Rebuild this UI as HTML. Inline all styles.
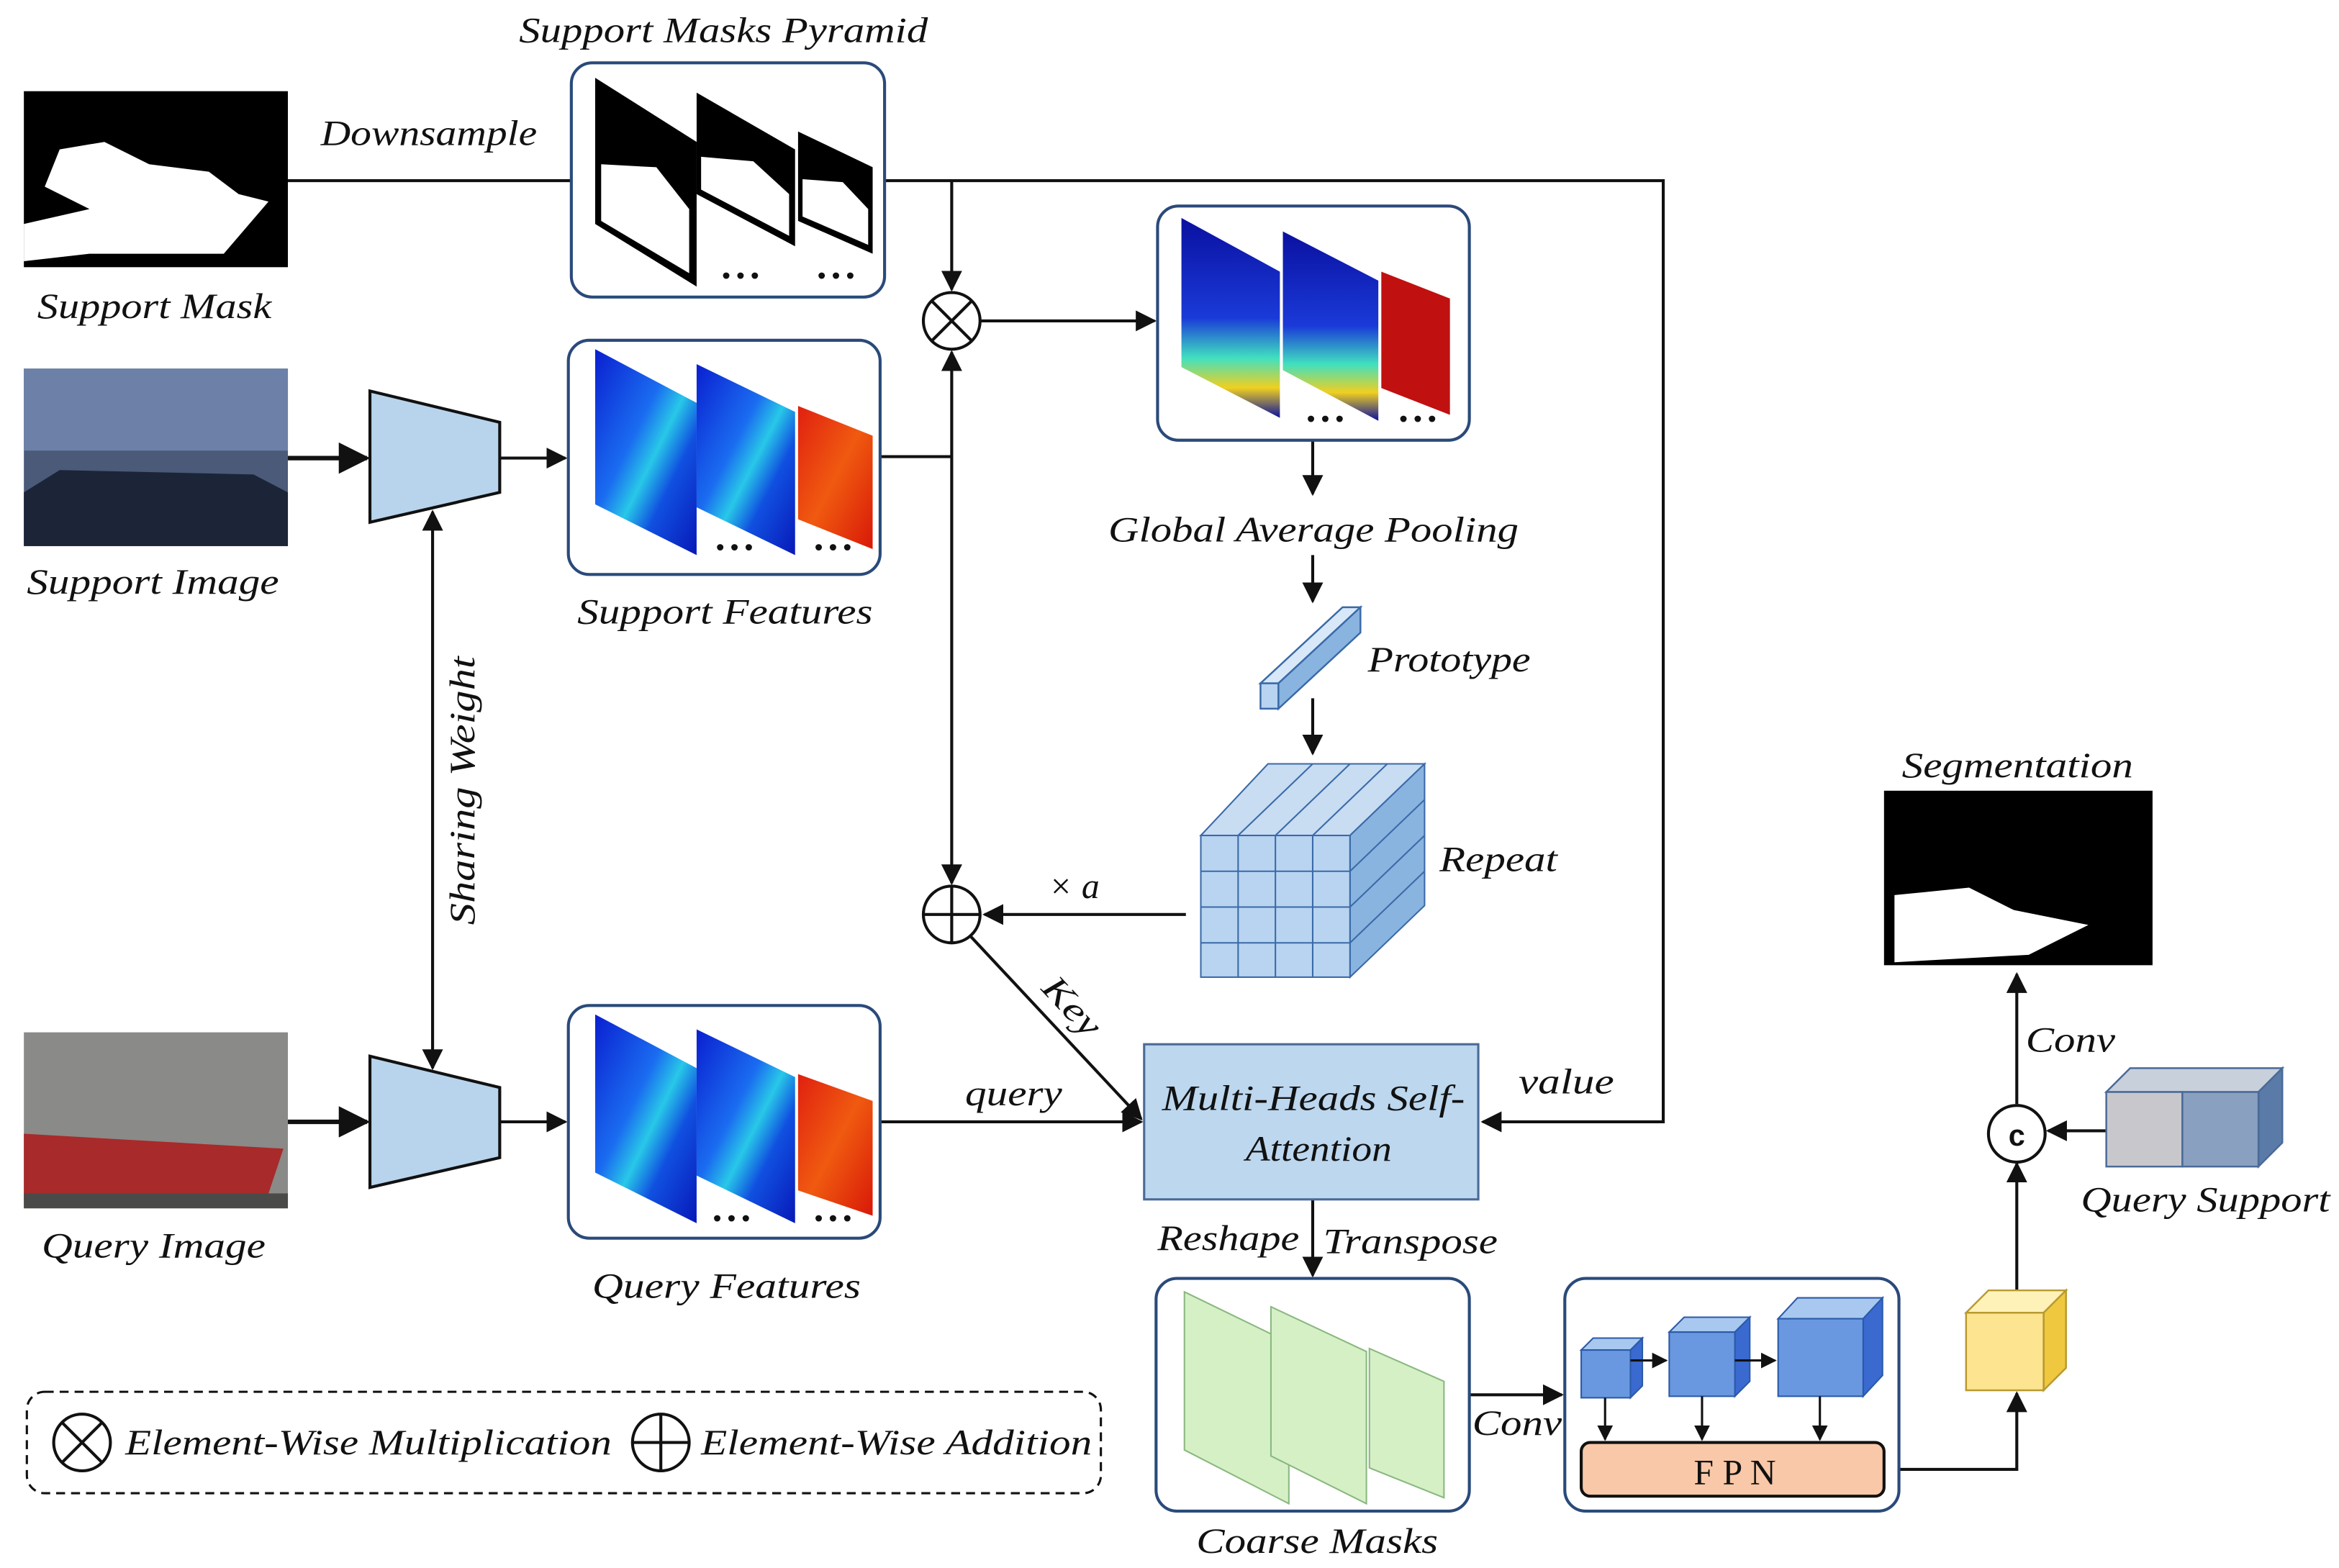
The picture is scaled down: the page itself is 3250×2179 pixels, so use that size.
<!DOCTYPE html>
<html><head><meta charset="utf-8"><style>
html,body{margin:0;padding:0;background:#fff}
svg{display:block}
text{font-family:"Liberation Serif",serif;font-style:italic;fill:#111}
</style></head><body>
<svg width="3250" height="2179" viewBox="0 0 1568 1051" xmlns="http://www.w3.org/2000/svg">
<defs>
<marker id="a" viewBox="0 0 10 10" refX="9" refY="5" markerWidth="7" markerHeight="7" orient="auto-start-reverse"><path d="M0,0L10,5L0,10z" fill="#111"/></marker>
<linearGradient id="heat" x1="0" y1="0" x2="1" y2="1"><stop offset="0" stop-color="#0a1fd0"/><stop offset=".4" stop-color="#1a6cf0"/><stop offset=".55" stop-color="#28c8e8"/><stop offset=".7" stop-color="#1050e0"/><stop offset="1" stop-color="#0818b8"/></linearGradient>
<linearGradient id="red" x1="0" y1="0" x2="1" y2="1"><stop offset="0" stop-color="#e02010"/><stop offset=".5" stop-color="#f05a10"/><stop offset="1" stop-color="#d81808"/></linearGradient>
<linearGradient id="pool" x1="0" y1="0" x2="0" y2="1"><stop offset="0" stop-color="#0a10a0"/><stop offset=".5" stop-color="#1a3ad8"/><stop offset=".7" stop-color="#40e0c0"/><stop offset=".85" stop-color="#f0d020"/><stop offset="1" stop-color="#0a10a0"/></linearGradient>
</defs>
<g stroke="#111" stroke-width="2" fill="none">
<rect x="16" y="61" width="177" height="118" fill="#000" stroke="none"/>
<path d="M16,150 L60,140 L30,125 L40,100 L70,95 L100,110 L140,115 L160,130 L180,135 L150,170 L60,170 L16,175z" fill="#fff" stroke="none"/>
<rect x="16" y="247" width="177" height="119" fill="#4a5a78" stroke="none"/>
<rect x="16" y="247" width="177" height="55" fill="#6c80a8" stroke="none"/>
<path d="M16,330 L40,315 L170,318 L193,330 L193,366 L16,366z" fill="#1c2438" stroke="none"/>
<rect x="16" y="692" width="177" height="118" fill="#8a8a88" stroke="none"/>
<path d="M16,760 L190,770 L180,800 L16,805z" fill="#a82a2a" stroke="none"/>
<rect x="16" y="800" width="177" height="10" fill="#4a4a48" stroke="none"/>
<rect x="1263" y="530" width="180" height="117" fill="#000" stroke="none"/>
<path d="M1270,600 L1320,595 L1350,610 L1400,620 L1360,640 L1270,645z" fill="#fff" stroke="none"/>
<line x1="193" y1="121" x2="383" y2="121"/>
<polyline points="593,121 1115,121 1115,752 994,752" marker-end="url(#a)"/>
<line x1="638" y1="121" x2="638" y2="194" marker-end="url(#a)"/>
<polyline points="590,306 638,306"/>
<line x1="638" y1="306" x2="638" y2="236" marker-end="url(#a)"/>
<line x1="638" y1="306" x2="638" y2="592" marker-end="url(#a)"/>
<line x1="657" y1="215" x2="774" y2="215" marker-end="url(#a)"/>
<line x1="880" y1="295" x2="880" y2="331" marker-end="url(#a)"/>
<line x1="880" y1="372" x2="880" y2="403" marker-end="url(#a)"/>
<line x1="880" y1="468" x2="880" y2="505" marker-end="url(#a)"/>
<line x1="795" y1="613" x2="660" y2="613" marker-end="url(#a)"/>
<line x1="651" y1="628" x2="765" y2="750" marker-end="url(#a)"/>
<line x1="590" y1="752" x2="765" y2="752" marker-end="url(#a)"/>
<line x1="880" y1="804" x2="880" y2="855" marker-end="url(#a)"/>
<line x1="985" y1="935" x2="1047" y2="935" marker-end="url(#a)"/>
<polyline points="1273,985 1352,985 1352,934" marker-end="url(#a)"/>
<line x1="1352" y1="865" x2="1352" y2="780" marker-end="url(#a)"/>
<line x1="1412" y1="758" x2="1373" y2="758" marker-end="url(#a)"/>
<line x1="1352" y1="740" x2="1352" y2="653" marker-end="url(#a)"/>
<line x1="193" y1="307" x2="246" y2="307" stroke-width="3" marker-end="url(#a)"/>
<line x1="335" y1="307" x2="379" y2="307" marker-end="url(#a)"/>
<line x1="193" y1="752" x2="246" y2="752" stroke-width="3" marker-end="url(#a)"/>
<line x1="335" y1="752" x2="379" y2="752" marker-end="url(#a)"/>
<line x1="290" y1="343" x2="290" y2="716" marker-start="url(#a)" marker-end="url(#a)"/>
<polygon points="248,262 335,283 335,330 248,350" fill="#b8d4ec"/>
<polygon points="248,708 335,729 335,776 248,796" fill="#b8d4ec"/>
<rect x="383" y="42" width="210" height="157" rx="14" stroke="#2a4a7a"/>
<rect x="381" y="228" width="209" height="157" rx="14" stroke="#2a4a7a"/>
<rect x="381" y="674" width="209" height="156" rx="14" stroke="#2a4a7a"/>
<rect x="776" y="138" width="209" height="157" rx="14" stroke="#2a4a7a"/>
<rect x="775" y="857" width="210" height="156" rx="14" stroke="#2a4a7a"/>
<rect x="1049" y="857" width="224" height="156" rx="14" stroke="#2a4a7a"/>
<rect x="767" y="700" width="224" height="104" fill="#bcd7ee" stroke="#4a6a98" stroke-width="1.5"/>
<rect x="18" y="933" width="720" height="68" rx="12" stroke-dasharray="6,4" stroke-width="1.5"/>
</g>
<g stroke="none">
<polygon points="399,52 467,95 467,192 399,150" fill="#000"/>
<path d="M403,110 L440,112 L462,140 L462,183 L403,148z" fill="#fff"/>
<polygon points="467,62 533,100 533,165 467,130" fill="#000"/>
<path d="M470,105 L505,108 L529,130 L529,158 L470,127z" fill="#fff"/>
<polygon points="535,88 585,112 585,170 535,148" fill="#000"/>
<path d="M538,120 L565,122 L582,140 L582,164 L538,145z" fill="#fff"/>
<polygon points="399,234 467,270 467,372 399,338" fill="url(#heat)"/>
<polygon points="467,244 533,276 533,372 467,340" fill="url(#heat)"/>
<polygon points="535,272 585,292 585,368 535,348" fill="url(#red)"/>
<polygon points="399,680 467,716 467,820 399,786" fill="url(#heat)"/>
<polygon points="467,690 533,722 533,820 467,788" fill="url(#heat)"/>
<polygon points="535,720 585,738 585,815 535,798" fill="url(#red)"/>
<polygon points="792,146 858,182 858,280 792,246" fill="url(#pool)"/>
<polygon points="860,155 924,188 924,282 860,248" fill="url(#pool)"/>
<polygon points="926,182 972,200 972,278 926,260" fill="#c01010"/>
<polygon points="794,866 864,900 864,1008 794,972" fill="#d6f0c6" stroke="#8ab880"/>
<polygon points="852,876 916,906 916,1008 852,976" fill="#d6f0c6" stroke="#8ab880"/>
<polygon points="918,904 968,926 968,1004 918,984" fill="#d6f0c6" stroke="#8ab880"/>
</g>
<g font-size="16" font-weight="bold" fill="#111">
<text x="484" y="190" style="font-style:normal">• • •</text><text x="548" y="190" style="font-style:normal">• • •</text>
<text x="480" y="372" style="font-style:normal">• • •</text><text x="546" y="372" style="font-style:normal">• • •</text>
<text x="478" y="822" style="font-style:normal">• • •</text><text x="546" y="822" style="font-style:normal">• • •</text>
<text x="876" y="286" style="font-style:normal">• • •</text><text x="938" y="286" style="font-style:normal">• • •</text>
</g>
<g stroke="#3a6aa8" stroke-width="1.2">
<polygon points="845,458 900,407 912,407 857,458" fill="#d8e8f8"/>
<polygon points="857,458 912,407 912,424 857,475" fill="#8ab4e0"/>
<rect x="845" y="458" width="12" height="17" fill="#b8d4f0"/>
</g>
<g stroke="#3a6aa8" stroke-width="1">
<polygon points="805,560 850,512 955,512 905,560" fill="#c8dcf2"/>
<polygon points="905,560 955,512 955,607 905,655" fill="#8ab4e0"/>
<rect x="805" y="560" width="100" height="95" fill="#b8d4f0"/>
<path d="M830,560V655M855,560V655M880,560V655M805,584H905M805,608H905M805,632H905" fill="none"/>
<path d="M830,560L880,512M855,560L905,512M880,560L930,512M905,584L955,536M905,608L955,560M905,632L955,584" fill="none"/>
</g>
<g stroke="#2a5aa8" stroke-width="1">
<polygon points="1060,905 1068,897 1101,897 1093,905" fill="#a8c8f0"/><polygon points="1093,905 1101,897 1101,929 1093,937" fill="#3a6ad0"/><rect x="1060" y="905" width="33" height="32" fill="#6a98e0"/>
<polygon points="1119,893 1129,883 1173,883 1163,893" fill="#a8c8f0"/><polygon points="1163,893 1173,883 1173,926 1163,936" fill="#3a6ad0"/><rect x="1119" y="893" width="44" height="43" fill="#6a98e0"/>
<polygon points="1192,884 1205,870 1262,870 1249,884" fill="#a8c8f0"/><polygon points="1249,884 1262,870 1262,922 1249,936" fill="#3a6ad0"/><rect x="1192" y="884" width="57" height="52" fill="#6a98e0"/>
</g>
<g stroke="#111" stroke-width="1.5" fill="none">
<line x1="1093" y1="912" x2="1117" y2="912" marker-end="url(#a)"/>
<line x1="1163" y1="912" x2="1190" y2="912" marker-end="url(#a)"/>
<line x1="1076" y1="937" x2="1076" y2="965" marker-end="url(#a)"/>
<line x1="1141" y1="936" x2="1141" y2="965" marker-end="url(#a)"/>
<line x1="1220" y1="936" x2="1220" y2="965" marker-end="url(#a)"/>
</g>
<rect x="1060" y="967" width="203" height="36" rx="6" fill="#f8c8a8" stroke="#111" stroke-width="2"/>
<g stroke="#b89a30" stroke-width="1.2">
<polygon points="1318,880 1333,865 1385,865 1370,880" fill="#fff2b8"/>
<polygon points="1370,880 1385,865 1385,917 1370,932" fill="#f0c840"/>
<rect x="1318" y="880" width="52" height="52" fill="#fde490"/>
</g>
<g stroke="#4a6a98" stroke-width="1.2">
<polygon points="1412,732 1428,716 1530,716 1514,732" fill="#c8d0dc"/>
<polygon points="1514,732 1530,716 1530,766 1514,782" fill="#5a7aa8"/>
<rect x="1412" y="732" width="51" height="50" fill="#c8c8cc"/>
<rect x="1463" y="732" width="51" height="50" fill="#8aa0c0"/>
</g>
<g stroke="#111" stroke-width="2" fill="#fff">
<circle cx="638" cy="215" r="19"/><path d="M625,202L651,228M651,202L625,228"/>
<circle cx="638" cy="613" r="19"/><path d="M619,613H657M638,594V632"/>
<circle cx="1352" cy="760" r="19"/>
<circle cx="55" cy="967" r="19"/><path d="M42,954L68,980M68,954L42,980"/>
<circle cx="443" cy="967" r="19"/><path d="M424,967H462M443,948V986"/>
</g>
<g font-size="24" lengthAdjust="spacingAndGlyphs">
<text x="1352" y="768" text-anchor="middle" style="font-style:normal;font-family:'Liberation Sans',sans-serif;font-weight:bold;font-size:20px">c</text>
<text x="348" y="28" textLength="274" lengthAdjust="spacingAndGlyphs">Support Masks Pyramid</text>
<text x="215" y="97" textLength="145" lengthAdjust="spacingAndGlyphs">Downsample</text>
<text x="25" y="213" textLength="157" lengthAdjust="spacingAndGlyphs">Support Mask</text>
<text x="18" y="398" textLength="169" lengthAdjust="spacingAndGlyphs">Support Image</text>
<text x="28" y="843" textLength="150" lengthAdjust="spacingAndGlyphs">Query Image</text>
<text x="387" y="418" textLength="198" lengthAdjust="spacingAndGlyphs">Support Features</text>
<text x="397" y="870" textLength="180" lengthAdjust="spacingAndGlyphs">Query Features</text>
<text x="743" y="363" textLength="275" lengthAdjust="spacingAndGlyphs">Global Average Pooling</text>
<text x="917" y="450" textLength="109" lengthAdjust="spacingAndGlyphs">Prototype</text>
<text x="965" y="584" textLength="79" lengthAdjust="spacingAndGlyphs">Repeat</text>
<text x="720" y="602" text-anchor="middle">× a</text>
<text x="647" y="741" textLength="65" lengthAdjust="spacingAndGlyphs">query</text>
<text x="1018" y="733" textLength="64" lengthAdjust="spacingAndGlyphs">value</text>
<text x="779" y="744" textLength="203" lengthAdjust="spacingAndGlyphs">Multi-Heads Self-</text>
<text x="835" y="778" textLength="98" lengthAdjust="spacingAndGlyphs">Attention</text>
<text x="776" y="838" textLength="95" lengthAdjust="spacingAndGlyphs">Reshape</text>
<text x="887" y="840" textLength="117" lengthAdjust="spacingAndGlyphs">Transpose</text>
<text x="802" y="1041" textLength="162" lengthAdjust="spacingAndGlyphs">Coarse Masks</text>
<text x="987" y="962" textLength="60" lengthAdjust="spacingAndGlyphs">Conv</text>
<text x="1163" y="995" text-anchor="middle" style="font-style:normal">F P N</text>
<text x="1275" y="521" textLength="155" lengthAdjust="spacingAndGlyphs">Segmentation</text>
<text x="1358" y="705" textLength="60" lengthAdjust="spacingAndGlyphs">Conv</text>
<text x="1395" y="812" textLength="167" lengthAdjust="spacingAndGlyphs">Query Support</text>
<text x="84" y="975" textLength="326" lengthAdjust="spacingAndGlyphs">Element-Wise Multiplication</text>
<text x="470" y="975" textLength="262" lengthAdjust="spacingAndGlyphs">Element-Wise Addition</text>
<text transform="translate(318,530) rotate(-90)" text-anchor="middle" textLength="180" lengthAdjust="spacingAndGlyphs">Sharing Weight</text>
<text transform="translate(713,680) rotate(47)" text-anchor="middle" textLength="46" lengthAdjust="spacingAndGlyphs">Key</text>
</g>
</svg>
</body></html>
